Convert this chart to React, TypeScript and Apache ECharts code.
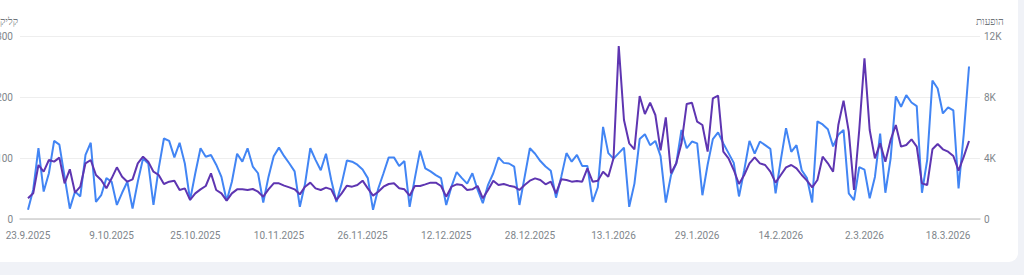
import React, { useEffect, useRef } from "react";
import * as echarts from "echarts";

// X tick labels, one every 16 days starting at day 0 (23.9.2025)
const tickLabels = [
  "23.9.2025", "9.10.2025", "25.10.2025", "10.11.2025", "26.11.2025", "12.12.2025",
  "28.12.2025", "13.1.2026", "29.1.2026", "14.2.2026", "2.3.2026", "18.3.2026",
];
const tickStepDays = 16;

// Daily clicks (left axis), 23.9.2025 .. 22.3.2026
const clicks = [
  15, 48, 116, 45, 75, 128, 122, 69, 17, 45, 37, 105, 125, 28, 39, 67, 61, 23, 43, 61, 17, 61, 99, 91, 23, 83, 132, 128, 101, 125, 91, 31,
  75, 116, 102, 105, 89, 69, 30, 61, 107, 94, 116, 86, 75, 27, 69, 103, 117, 103, 91, 78, 20, 58, 116, 97, 80, 107, 64, 28,
  58, 96, 94, 89, 81, 67, 15, 50, 75, 101, 101, 87, 95, 20, 67, 112, 83, 78, 72, 67, 23, 53, 77, 67, 58, 75, 48, 26, 56, 75, 101, 92, 91,
  86, 23, 69, 116, 107, 95, 86, 79, 35, 69, 108, 94, 105, 87, 87, 28, 52, 151, 108, 99, 108, 117, 20, 58, 131, 139, 121, 128,
  103, 27, 72, 91, 146, 116, 127, 124, 39, 89, 131, 142, 124, 108, 92, 37, 80, 128, 107, 127, 121, 115, 42, 97, 149, 110, 121, 80, 67, 27, 160,
  155, 147, 119, 138, 146, 42, 31, 85, 81, 34, 69, 140, 43, 99, 201, 184, 203, 191, 185, 43, 97, 227, 214, 173, 183, 178, 50, 140, 250,
];

// Daily impressions (right axis)
const impressions = [
  1355, 1683, 3541, 3104, 3869, 3760, 4022, 2339, 3257, 1727, 2120, 3650, 3869, 2885, 2557, 2011, 2667, 3388, 2776, 2448, 2601, 3650, 4087, 3760, 3104, 2885, 2295, 2448, 2514, 1902, 2011, 1250,
  1683, 1945, 2164, 2995, 1902, 1683, 1202, 1683, 1945, 1945, 1902, 1967, 1792, 1464, 1945, 2339, 2339, 2186, 2076, 1945, 1617, 2120, 2383, 2011, 1902, 2055, 1945, 1246,
  1683, 2186, 2120, 2230, 2514, 2011, 1530, 1792, 2120, 2295, 2339, 2011, 1945, 1530, 2164, 2164, 2273, 2383, 2383, 2164, 1464, 2120, 2273, 2230, 1902, 1945, 2164, 1355, 1902, 2514, 2230, 2295, 2186,
  2120, 1902, 2230, 2514, 2667, 2558, 2273, 2448, 1683, 2601, 2558, 2448, 2492, 2448, 3323, 2448, 2514, 3104, 2776, 3979, 11345, 6492, 4962, 4569, 8066, 6886, 7629, 6820,
  4500, 6667, 2995, 3650, 4962, 7542, 7629, 6383, 6164, 4416, 7913, 8088, 4416, 3979, 3213, 2295, 2885, 3650, 4044, 3650, 3541, 3104, 2383, 2885, 3388, 3541, 3323, 2885, 2514, 2077, 2558,
  4088, 3650, 3104, 6164, 7760, 5727, 1902, 5836, 10536, 5836, 3979, 4962, 3760, 5181, 6164, 4743, 4853, 5224, 4743, 2339, 2230, 4569, 4918, 4569, 4416, 4131, 3170, 4088, 5115,
];

const clicksTicks = [0, 100, 200, 300];
const impressionTicks = [0, 4000, 8000, 12000];

export default function App() {
  const ref = useRef<HTMLDivElement>(null);

  useEffect(() => {
    if (!ref.current) return;
    const chart = echarts.init(ref.current, undefined, { renderer: "svg" });
    const labelColor = "#80868b";
    chart.setOption({
      animation: false,
      grid: { left: 20, right: 44, top: 36, bottom: 56, containLabel: false, outerBoundsMode: "none" },
      xAxis: {
        type: "value",
        min: -1.53,
        max: 182.1,
        splitLine: { show: false },
        axisTick: { show: false },
        axisLine: { show: true, lineStyle: { color: "#cfcfcf", width: 1.5 } },
        axisLabel: {
          customValues: tickLabels.map((_, i) => i * tickStepDays),
          formatter: (v: number) => tickLabels[Math.round(v / tickStepDays)] ?? "",
          color: labelColor,
          fontFamily: "Roboto",
          fontSize: 10,
          margin: 11,
        },
      },
      yAxis: [
        {
          type: "value",
          position: "left",
          min: clicksTicks[0],
          max: clicksTicks[clicksTicks.length - 1],
          interval: 100,
          name: "קליקים",
          nameLocation: "end",
          nameGap: 10,
          nameMoveOverlap: false,
          nameTextStyle: { color: "#70757a", fontFamily: "Roboto", fontSize: 10, align: "right", padding: [0, 10, 0, 0] },
          axisLine: { show: false },
          axisTick: { show: false },
          axisLabel: { color: labelColor, fontFamily: "Roboto", fontSize: 10, margin: 7 },
          splitLine: { show: true, lineStyle: { color: "#eeeeee", width: 1 } },
        },
        {
          type: "value",
          position: "right",
          min: impressionTicks[0],
          max: impressionTicks[impressionTicks.length - 1],
          interval: 4000,
          name: "הופעות",
          nameLocation: "end",
          nameGap: 10,
          nameMoveOverlap: false,
          nameTextStyle: { color: "#70757a", fontFamily: "Roboto", fontSize: 10, align: "left", padding: [0, 0, 0, -4] },
          axisLine: { show: false },
          axisTick: { show: false },
          axisLabel: {
            color: labelColor,
            fontFamily: "Roboto",
            fontSize: 10,
            margin: 4,
            formatter: (v: number) => (v === 0 ? "0" : v / 1000 + "K"),
          },
          splitLine: { show: false },
        },
      ],
      series: [
        {
          name: "קליקים",
          type: "line",
          yAxisIndex: 0,
          showSymbol: false,
          data: clicks.map((v, i) => [i, v]),
          lineStyle: { color: "#4285f4", width: 2 },
          itemStyle: { color: "#4285f4" },
          z: 2,
        },
        {
          name: "הופעות",
          type: "line",
          yAxisIndex: 1,
          showSymbol: false,
          data: impressions.map((v, i) => [i, v]),
          lineStyle: { color: "#5e35b1", width: 2 },
          itemStyle: { color: "#5e35b1" },
          z: 3,
        },
      ],
    });
    return () => chart.dispose();
  }, []);

  return (
    <div style={{ position: "fixed", left: 0, top: 0, width: 1024, height: 275, background: "#f0f2f7", overflow: "hidden" }}>
      <div
        style={{
          position: "absolute",
          left: -20,
          top: -20,
          width: 1038,
          height: 282,
          background: "#ffffff",
          borderRadius: 9,
        }}
      />
      <div ref={ref} style={{ position: "absolute", left: 0, top: 0, width: 1024, height: 275 }} />
    </div>
  );
}
